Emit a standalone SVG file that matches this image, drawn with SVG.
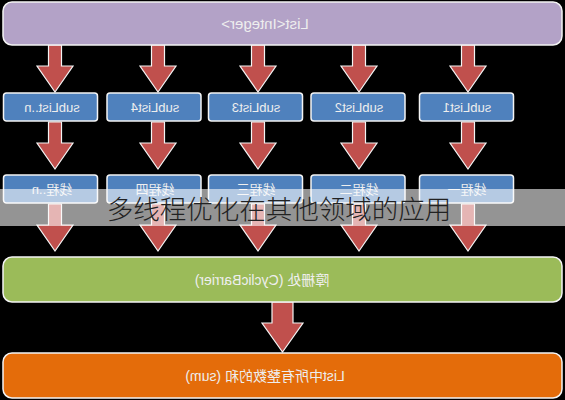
<svg xmlns="http://www.w3.org/2000/svg" width="565" height="400" viewBox="0 0 565 400">
<defs>
<style>
.lbl{font-family:"Liberation Sans","Noto Sans CJK SC",sans-serif;font-size:13px;fill:#eeeeee;text-anchor:middle}
.box{stroke:#f4f4f4;stroke-width:1.5}
.arr{fill:#c0504d;stroke:#f4f4f4;stroke-width:1.2}
</style>
<path id="a1" d="M-6.5,0 H6.5 V21 H18 L0,47 L-18,21 H-6.5 Z"/>
</defs>
<rect width="565" height="400" fill="#000"/>
<g id="connectors">
<use href="#a1" x="55" y="45" class="arr"/>
<use href="#a1" x="158" y="45" class="arr"/>
<use href="#a1" x="258" y="45" class="arr"/>
<use href="#a1" x="359" y="45" class="arr"/>
<use href="#a1" x="468" y="45" class="arr"/>
<use href="#a1" x="55" y="122" class="arr"/>
<use href="#a1" x="158" y="122" class="arr"/>
<use href="#a1" x="258" y="122" class="arr"/>
<use href="#a1" x="359" y="122" class="arr"/>
<use href="#a1" x="468" y="122" class="arr"/>
<use href="#a1" x="55" y="204" class="arr"/>
<use href="#a1" x="158" y="204" class="arr"/>
<use href="#a1" x="258" y="204" class="arr"/>
<use href="#a1" x="359" y="204" class="arr"/>
<use href="#a1" x="468" y="204" class="arr"/>
<path class="arr" d="M272,302 H293 V323 H303 L282.5,352 L262,323 H272 Z"/>
</g>
<g id="list">
<rect class="box" x="3" y="2" width="559" height="43" rx="9" fill="#b3a2c7"/>
<text class="lbl" style="font-size:15px" transform="translate(265,29) scale(-1,1)">List&lt;Integer&gt;</text>
</g>
<g id="sub-n"><rect class="box" x="3.5" y="93" width="94" height="28" rx="3" fill="#4f81bd"/><text class="lbl" transform="translate(52,112) scale(-1,1)">subList..n</text></g>
<g id="sub4"><rect class="box" x="107" y="93" width="94" height="28" rx="3" fill="#4f81bd"/><text class="lbl" transform="translate(155,112) scale(-1,1)">subList4</text></g>
<g id="sub3"><rect class="box" x="208.5" y="93" width="94" height="28" rx="3" fill="#4f81bd"/><text class="lbl" transform="translate(256,112) scale(-1,1)">subList3</text></g>
<g id="sub2"><rect class="box" x="311" y="93" width="94" height="28" rx="3" fill="#4f81bd"/><text class="lbl" transform="translate(359,112) scale(-1,1)">subList2</text></g>
<g id="sub1"><rect class="box" x="419.5" y="93" width="94" height="28" rx="3" fill="#4f81bd"/><text class="lbl" transform="translate(467,112) scale(-1,1)">subList1</text></g>
<g id="t-n"><rect class="box" x="3.5" y="175" width="94" height="28" rx="3" fill="#4f81bd"/><text class="lbl" transform="translate(52,194) scale(-1,1)">线程..n</text></g>
<g id="t4"><rect class="box" x="107" y="175" width="94" height="28" rx="3" fill="#4f81bd"/><text class="lbl" transform="translate(155,194) scale(-1,1)">线程四</text></g>
<g id="t3"><rect class="box" x="208.5" y="175" width="94" height="28" rx="3" fill="#4f81bd"/><text class="lbl" transform="translate(256,194) scale(-1,1)">线程三</text></g>
<g id="t2"><rect class="box" x="311" y="175" width="94" height="28" rx="3" fill="#4f81bd"/><text class="lbl" transform="translate(359,194) scale(-1,1)">线程二</text></g>
<g id="t1"><rect class="box" x="419.5" y="175" width="94" height="28" rx="3" fill="#4f81bd"/><text class="lbl" transform="translate(467,194) scale(-1,1)">线程一</text></g>
<g id="barrier">
<rect class="box" x="3" y="257" width="559" height="45" rx="9" fill="#9bbb59"/>
<text class="lbl" style="font-size:14px" transform="translate(262,285) scale(-1,1)">障栅处 (CyclicBarrier)</text>
</g>
<g id="sum">
<rect class="box" x="3" y="353" width="559" height="45" rx="9" fill="#e46c0a"/>
<text class="lbl" style="font-size:14px" transform="translate(265,381) scale(-1,1)">List中所有整数的和 (sum)</text>
</g>
<g id="banner">
<rect x="0" y="189" width="565" height="37" fill="#fff" fill-opacity="0.58"/>
<text x="279" y="219" text-anchor="middle" font-family="'Noto Sans CJK SC',sans-serif" font-weight="300" font-size="26.5" fill="#222">多线程优化在其他领域的应用</text>
</g>
</svg>
